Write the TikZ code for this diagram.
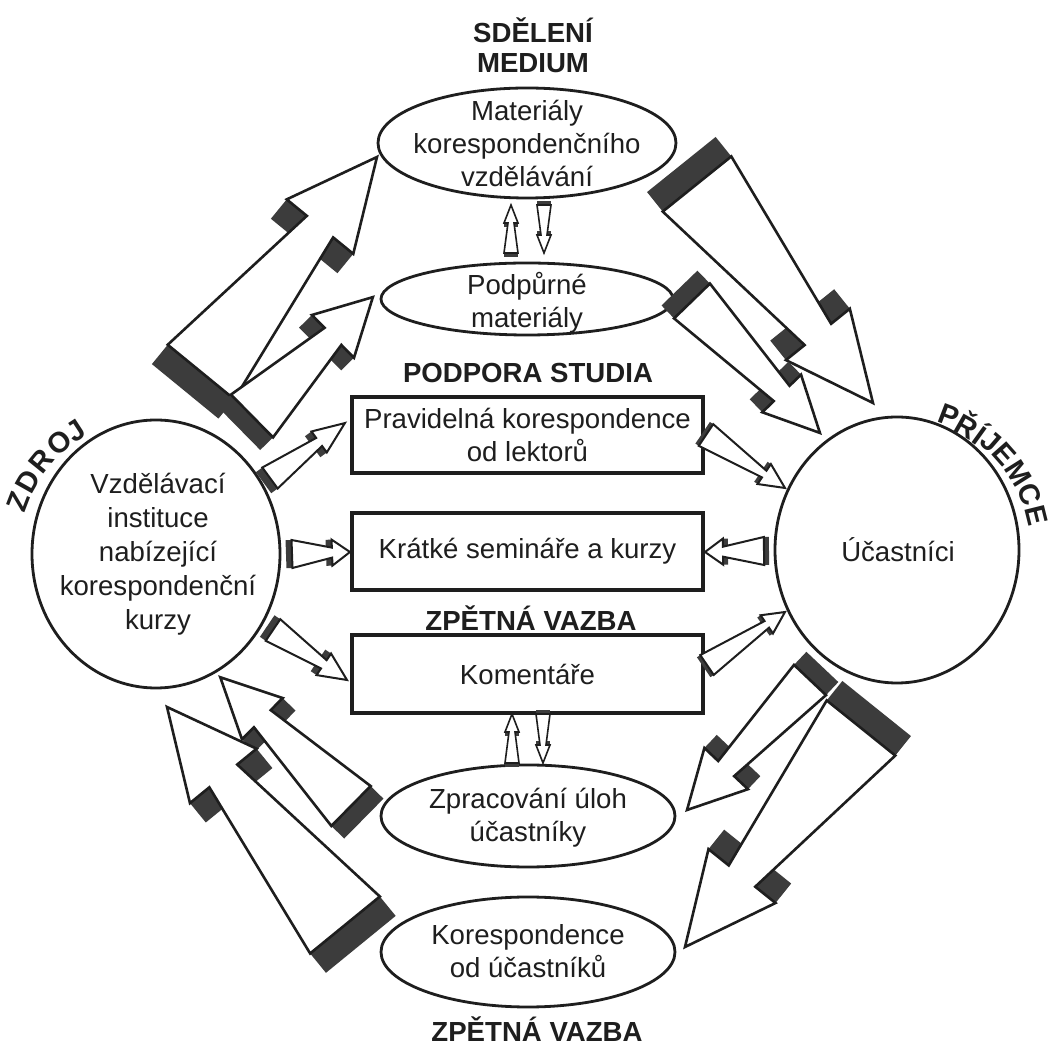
\documentclass[tikz,border=0pt]{standalone}
\usepackage{fontspec}
\setmainfont{Liberation Sans}
\usetikzlibrary{shapes.geometric,calc}
\definecolor{ink}{HTML}{1E1E1E}
\definecolor{shade}{HTML}{3C3C3C}
\tikzset{
  tdface/.style={fill=white, draw=ink, line width=1.3pt, line join=miter},
  tddark/.style={fill=shade},
  ell/.style={ellipse, draw=ink, line width=1.4pt, inner sep=0pt},
  box/.style={rectangle, draw=ink, line width=2pt, inner sep=0pt, minimum width=175.5pt,
    text=ink, align=center, font=\fontsize{13.8}{16.5}\selectfont},
  txt/.style={text=ink, align=center, font=\fontsize{13.8}{16.5}\selectfont, inner sep=0pt},
  lbl/.style={text=ink, align=center, font=\fontsize{13.8}{15}\selectfont\bfseries, inner sep=0pt},
  arcl/.style={text=ink, font=\fontsize{14.5}{15}\selectfont\bfseries, inner sep=0pt},
}
% #1 extra face options, #2 base coord, #3 tip coord, #4 base half width,
% #5 neck half width, #6 barb half width, #7 head length, #8 depth (px)
\newcommand\tdarrow[8][]{%
  \path let \p1=($(#3)-(#2)$) in \pgfextra{%
    \pgfmathsetmacro\tdang{atan2(\y1,\x1)}%
    \pgfmathsetmacro\tdlen{2*veclen(\x1,\y1)}%
    \global\let\tdang\tdang\global\let\tdlen\tdlen};
  \begin{scope}[shift={(#2)},rotate=\tdang,x=0.5pt,y=0.5pt]
    \pgfmathsetmacro\tdn{\tdlen-#7}%
    \fill[tddark] (0,#4) -- (0,-#4) -- (-#8,-#4) -- (-#8,#4) -- cycle;
    \fill[tddark] (\tdn,#5) -- (\tdn,#6) -- (\tdn-#8,#6) -- (\tdn-#8,#5) -- cycle;
    \fill[tddark] (\tdn,-#5) -- (\tdn,-#6) -- (\tdn-#8,-#6) -- (\tdn-#8,-#5) -- cycle;
    \draw[tdface,#1] (0,#4) -- (\tdn,#5) -- (\tdn,#6) -- (\tdlen,0) -- (\tdn,-#6) -- (\tdn,-#5) -- (0,-#4) -- cycle;
  \end{scope}}
\begin{document}
\begin{tikzpicture}[x=0.5pt,y=-0.5pt]
\useasboundingbox (0,0) rectangle (1051,1047);
\fill[white] (0,0) rectangle (1051,1047);

% main shapes
\node[ell, minimum width=124pt, minimum height=134pt] (src) at (156,554) {};
\node[txt, font=\fontsize{13.8}{17}\selectfont] (srct) at (158,554) {Vzdělávací\\instituce\\nabízející\\korespondenční\\kurzy};
\node[ell, minimum width=122pt, minimum height=133pt] (rcv) at (897,550) {};
\node[txt] (rcvt) at (898,550) {Účastníci};

\node[ell, minimum width=149pt, minimum height=55pt] (e1) at (527,143) {};
\node[txt] (e1t) at (527,143) {Materiály\\korespondenčního\\vzdělávání};
\node[ell, minimum width=146pt, minimum height=36pt] (e2) at (527,299) {};
\node[txt] (e2t) at (527,303) {Podpůrné\\materiály};
\node[ell, minimum width=147pt, minimum height=51pt] (e3) at (528,816) {};
\node[txt] (e3t) at (528,818) {Zpracování úloh\\účastníky};
\node[ell, minimum width=147pt, minimum height=55pt] (e4) at (528,952) {};
\node[txt] (e4t) at (528,951) {Korespondence\\od účastníků};

\node[box, minimum height=38pt] (r1) at (527.5,435) {Pravidelná korespondence\\od lektorů};
\node[box, minimum height=38.5pt] (r2) at (527.5,551.5) {Krátké semináře a kurzy};
\node[box, minimum height=39pt] (r3) at (527.5,674) {Komentáře};

% labels
\node[lbl] (sd) at (533,45) {SDĚLENÍ\\MEDIUM};
\node[lbl] (ps) at (528,373) {PODPORA STUDIA};
\node[lbl] (zv1) at (531,618) {ZPĚTNÁ VAZBA};
\node[lbl] (zv2) at (537,1029) {ZPĚTNÁ VAZBA};

\foreach \ch/\a [count=\i] in {Z/159, D/150.5, R/141, O/131, J/123}
  \node[arcl, rotate=\a-90] (zd\i) at ({156+147*cos(\a)},{554-147*sin(\a)}) {\ch};
\foreach \ch/\a [count=\i] in {P/69, Ř/60.4, Í/54.2, J/49.1, E/41.5, M/32.2, C/22.6, E/14}
  \node[arcl, rotate=\a-90] (pr\i) at ({897+144*cos(\a)},{550-144*sin(\a)}) {\ch};

% arrow end points
\coordinate (l1b) at (201,372); \coordinate (l1t) at (377,157);
\coordinate (l2b) at (252,416); \coordinate (l2t) at (373,297);
\coordinate (l3b) at (270,478); \coordinate (l3t) at (345,423);
\coordinate (l4b) at (292,554); \coordinate (l4t) at (350,552);
\coordinate (l5b) at (273,630); \coordinate (l5t) at (347,680);
\coordinate (l6b) at (351,806); \coordinate (l6t) at (220,677);
\coordinate (l7b) at (345,925); \coordinate (l7t) at (167,707);
\coordinate (r1b) at (697,184); \coordinate (r1t) at (873,403);
\coordinate (r2b) at (692,301); \coordinate (r2t) at (820,433);
\coordinate (r3b) at (706,435); \coordinate (r3t) at (785,488);
\coordinate (r4b) at (764,551); \coordinate (r4t) at (705,552);
\coordinate (r5b) at (707,665); \coordinate (r5t) at (785,612);
\coordinate (r6b) at (810,680); \coordinate (r6t) at (687,810);
\coordinate (r7b) at (861,728); \coordinate (r7t) at (685,947);
\coordinate (v1b) at (511,253); \coordinate (v1t) at (511,205);
\coordinate (v2b) at (544,205); \coordinate (v2t) at (544,253);
\coordinate (v3b) at (512,763); \coordinate (v3t) at (512,714);
\coordinate (v4b) at (543,714); \coordinate (v4t) at (543,763);

% 3D arrows
\tdarrow{l1b}{l1t}{43}{17}{43}{90}{25}
\tdarrow{l2b}{l2t}{30}{12}{30}{56}{18}
\tdarrow[line width=1pt]{l3b}{l3t}{13}{5}{13}{32}{8}
\tdarrow[line width=1pt]{l4b}{l4t}{14}{5}{13}{18}{6}
\tdarrow[line width=1pt]{l5b}{l5t}{13}{5}{13}{28}{7}
\tdarrow{l6b}{l6t}{28}{12}{29}{59}{18}
\tdarrow{l7b}{l7t}{45}{18}{43}{89}{25}
\tdarrow{r1b}{r1t}{44}{17}{41}{88}{25}
\tdarrow{r2b}{r2t}{25}{11}{27}{55}{18}
\tdarrow[line width=1pt]{r3b}{r3t}{13}{4}{12}{25}{4}
\tdarrow[line width=1pt]{r4b}{r4t}{14}{5}{13}{18}{5}
\tdarrow[line width=1pt]{r5b}{r5t}{12}{4}{11}{22}{4}
\tdarrow{r6b}{r6t}{22}{11}{30}{57}{18}
\tdarrow{r7b}{r7t}{44}{17}{43}{91}{25}
\tdarrow[line width=0.8pt]{v1b}{v1t}{7}{3}{7}{18}{4}
\tdarrow[line width=0.8pt]{v2b}{v2t}{7}{3}{7}{18}{4}
\tdarrow[line width=0.8pt]{v3b}{v3t}{7}{3}{7}{18}{4}
\tdarrow[line width=0.8pt]{v4b}{v4t}{7}{3}{7}{18}{4}
\end{tikzpicture}
\end{document}
